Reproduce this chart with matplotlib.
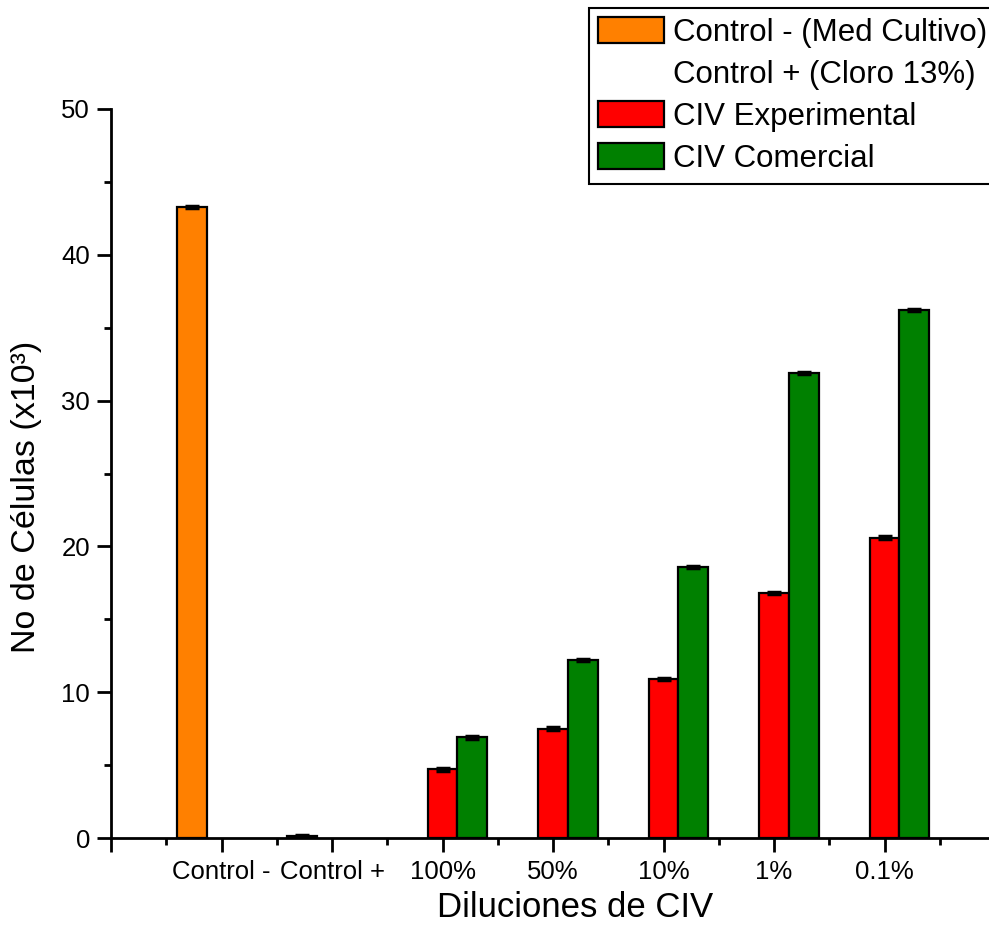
import matplotlib
matplotlib.use("Agg")
import matplotlib.pyplot as plt
from matplotlib.patches import Patch
from matplotlib.ticker import MultipleLocator, FixedLocator
import numpy as np

plt.rcParams['font.family'] = ['Liberation Sans', 'DejaVu Sans']

# Categories along the x axis
categories = ["Control -", "Control +", "100%", "50%", "10%", "1%", "0.1%"]

# Controls (one bar each)
control_values = [43.3, 0.15]
control_errors = [0.08, 0.08]

# Dilution series (100%, 50%, 10%, 1%, 0.1%)
civ_experimental = [4.7, 7.5, 10.9, 16.8, 20.6]
civ_experimental_err = [0.08, 0.08, 0.08, 0.08, 0.08]
civ_comercial = [6.9, 12.2, 18.6, 31.9, 36.2]
civ_comercial_err = [0.08, 0.08, 0.08, 0.08, 0.08]

legend_labels = ["Control - (Med Cultivo)", "Control + (Cloro 13%)",
                 "CIV Experimental", "CIV Comercial"]

ORANGE = "#FF8000"
RED = "#FF0000"
GREEN = "#008000"

W, H = 989, 942
fig = plt.figure(figsize=(W / 100, H / 100), dpi=100)
left, bottom_px, top_px = 111, 838, 109
x_right_px = 995
ax = fig.add_axes([left / W, 1 - bottom_px / H,
                   (x_right_px - left) / W, (bottom_px - top_px) / H])

bw = 0.27
cat_x = np.arange(1, len(categories) + 1)
err_kw = dict(ecolor="black", elinewidth=1.5, capsize=5, capthick=2.5)

# control bars sit one slot to the left of their category
ax.bar(cat_x[:2] - bw, control_values, width=bw, color=ORANGE,
       edgecolor="black", linewidth=1.6, yerr=control_errors,
       error_kw=err_kw, zorder=2)

dil_x = cat_x[2:]
ax.bar(dil_x, civ_experimental, width=bw, color=RED, edgecolor="black",
       linewidth=1.6, yerr=civ_experimental_err, error_kw=err_kw, zorder=2)
ax.bar(dil_x + bw, civ_comercial, width=bw, color=GREEN, edgecolor="black",
       linewidth=1.6, yerr=civ_comercial_err, error_kw=err_kw, zorder=2)

ax.set_xlim(0, 8)
ax.set_ylim(0, 50)

ax.spines["top"].set_visible(False)
ax.spines["right"].set_visible(False)
for s in ("left", "bottom"):
    ax.spines[s].set_linewidth(2)
    ax.spines[s].set_clip_on(False)

ax.xaxis.set_major_locator(FixedLocator(np.arange(0, 9)))
ax.set_xticklabels([""] + categories + [""])
ax.xaxis.set_minor_locator(MultipleLocator(0.5))
ax.yaxis.set_major_locator(MultipleLocator(10))
ax.yaxis.set_minor_locator(MultipleLocator(5))

ax.tick_params(axis="both", which="major", direction="out", length=10,
               width=2, labelsize=18.5, pad=5)
ax.tick_params(axis="both", which="minor", direction="out", length=5,
               width=2)
ax.tick_params(axis="x", which="major", pad=6)

ax.set_xlabel("Diluciones de CIV", fontsize=25)
ax.set_ylabel("No de Células (x10³)", fontsize=24.5)
# label anchors in figure pixels
ax.xaxis.set_label_coords(575 / W, 1 - 917 / H, transform=fig.transFigure)
ax.yaxis.set_label_coords(27 / W, 1 - 497 / H, transform=fig.transFigure)
ax.xaxis.label.set_va("baseline")
ax.yaxis.label.set_va("center")

handles = [
    Patch(facecolor=ORANGE, edgecolor="black", linewidth=1.6),
    Patch(facecolor="none", edgecolor="none"),
    Patch(facecolor=RED, edgecolor="black", linewidth=1.6),
    Patch(facecolor=GREEN, edgecolor="black", linewidth=1.6),
]
leg_x0, leg_top = 589 / W, 1 - 8 / H
leg = fig.legend(handles, legend_labels, loc="upper left",
                 bbox_to_anchor=(leg_x0, leg_top - 0.2, 1.03 - leg_x0, 0.2),
                 mode="expand", fontsize=22.5,
                 frameon=True, fancybox=False, framealpha=1,
                 edgecolor="black", handlelength=2.1, handleheight=0.9,
                 handletextpad=0.3, labelspacing=0.36, borderpad=0.3,
                 borderaxespad=0)
leg.get_frame().set_linewidth(1.5)

fig.savefig("out.png", dpi=100)
